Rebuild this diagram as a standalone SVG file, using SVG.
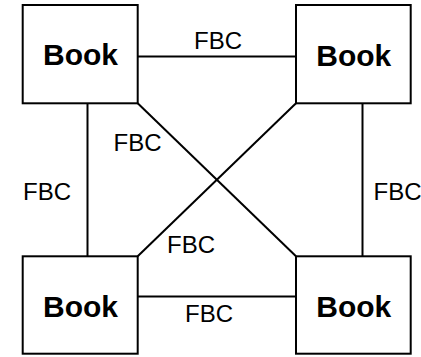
<svg xmlns="http://www.w3.org/2000/svg" width="421" height="357" viewBox="0 0 421 357">
<style>
.box{fill:#fff;stroke:#000;stroke-width:2}
.lbl{font-family:"Liberation Sans",Arial,sans-serif;font-size:30px;font-weight:bold;fill:#000;text-anchor:middle}
.edge{stroke:#000;stroke-width:2;fill:none}
.et{font-family:"Liberation Sans",Arial,sans-serif;font-size:24px;fill:#000;text-anchor:middle}
</style>
<rect width="421" height="357" fill="#fff"/>
<g id="connectors">
<line class="edge" x1="137" y1="56.5" x2="296" y2="56.5"/>
<line class="edge" x1="137" y1="296.5" x2="296" y2="296.5"/>
<line class="edge" x1="87.5" y1="103" x2="87.5" y2="256.5"/>
<line class="edge" x1="362.5" y1="103" x2="362.5" y2="256.5"/>
<line class="edge" x1="137.7" y1="103.3" x2="296" y2="256.3"/>
<line class="edge" x1="296" y1="103.3" x2="137.7" y2="256.3"/>
<text class="et" x="218" y="49.3">FBC</text>
<text class="et" x="137.5" y="150.7">FBC</text>
<text class="et" x="47" y="199.7">FBC</text>
<text class="et" x="397.5" y="199.7">FBC</text>
<text class="et" x="191" y="252.7">FBC</text>
<text class="et" x="209" y="322.3">FBC</text>
</g>
<g id="node-tl">
<rect class="box" x="22.7" y="5" width="115" height="98.3"/>
<text class="lbl" x="80.5" y="65.3">Book</text>
</g>
<g id="node-tr">
<rect class="box" x="296" y="5" width="114.7" height="98.3"/>
<text class="lbl" x="353.8" y="65.5">Book</text>
</g>
<g id="node-bl">
<rect class="box" x="22.7" y="256.3" width="115" height="97.4"/>
<text class="lbl" x="80.5" y="317.3">Book</text>
</g>
<g id="node-br">
<rect class="box" x="296" y="256.3" width="114.7" height="97.4"/>
<text class="lbl" x="353.8" y="316.8">Book</text>
</g>
</svg>
